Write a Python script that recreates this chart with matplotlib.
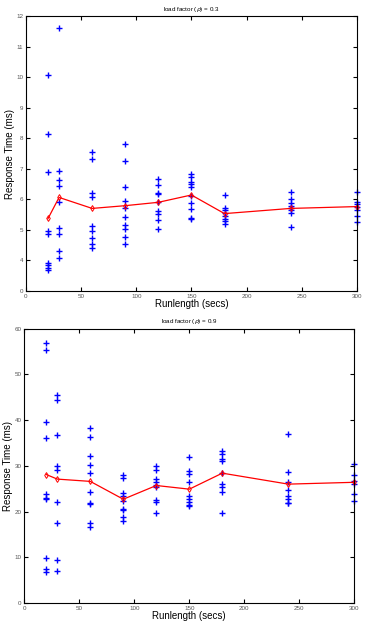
import numpy as np
import matplotlib
matplotlib.use("Agg")
import matplotlib.pyplot as plt

plt.rcParams['font.family'] = ['Liberation Sans', 'DejaVu Sans']

# runlengths (secs)
runlen = [20, 30, 60, 90, 120, 150, 180, 240, 300]

# load factor 0.3 - individual runs
top_runs = [
    [10.07, 8.13, 6.88, 4.97, 4.85, 3.91, 3.83, 3.75, 3.67],
    [11.61, 6.94, 6.62, 6.44, 5.90, 5.07, 4.87, 4.29, 4.06],
    [7.54, 7.32, 6.20, 6.06, 5.12, 4.97, 4.72, 4.53, 4.41],
    [7.80, 7.26, 6.39, 5.93, 5.72, 5.41, 5.15, 5.03, 4.75, 4.52],
    [6.65, 6.47, 6.20, 6.17, 5.91, 5.61, 5.51, 5.31, 5.01],
    [6.83, 6.72, 6.56, 6.49, 6.41, 6.12, 5.87, 5.69, 5.38, 5.34],
    [6.13, 5.70, 5.65, 5.54, 5.45, 5.35, 5.28, 5.18],
    [6.23, 6.00, 5.87, 5.78, 5.71, 5.65, 5.54, 5.10],
    [6.25, 5.91, 5.84, 5.76, 5.64, 5.46, 5.25],
]
top_mean = [5.37, 6.06, 5.70, 5.79, 5.90, 6.14, 5.53, 5.70, 5.76]

# load factor 0.9 - individual runs
bot_runs = [
    [56.8, 55.3, 39.5, 36.0, 23.8, 23.0, 22.7, 9.9, 7.4, 6.7],
    [45.6, 44.3, 36.8, 30.0, 29.1, 22.0, 17.6, 9.4, 7.0],
    [38.2, 36.4, 32.1, 30.1, 28.4, 24.2, 21.8, 21.6, 17.6, 16.7],
    [28.1, 27.3, 24.0, 23.5, 22.3, 20.5, 20.3, 18.8, 18.0],
    [30.0, 29.1, 27.1, 26.4, 25.9, 25.3, 22.5, 22.1, 19.6],
    [31.9, 28.9, 28.2, 26.5, 23.3, 22.7, 22.1, 21.4, 21.3],
    [33.2, 32.6, 31.5, 31.1, 28.4, 26.1, 25.4, 24.3, 19.6],
    [36.9, 28.6, 26.4, 24.7, 23.4, 22.7, 21.9, 21.8],
    [30.3, 28.1, 26.7, 26.0, 23.8, 22.3],
]
bot_mean = [28.1, 27.1, 26.6, 22.7, 25.7, 24.9, 28.4, 26.0, 26.4]

fig = plt.figure(figsize=(3.66, 6.24), dpi=100)
ax1 = fig.add_axes([0.071, 0.534, 0.904, 0.440])
ax2 = fig.add_axes([0.0664, 0.0337, 0.9016, 0.4395])


def draw(ax, runs, mean, title):
    for x, vals in zip(runlen, runs):
        ax.plot([x] * len(vals), vals, '+', color='blue', markersize=5, markeredgewidth=1.0,
                clip_on=False)
    ax.plot(runlen, mean, '-', color='red', linewidth=0.9, clip_on=False)
    ax.plot(runlen, mean, 'd', color='red', markerfacecolor='none', markersize=3,
            markeredgewidth=0.7, clip_on=False)
    ax.set_xlim(0, 300)
    ax.set_title(title, fontsize=4.5, pad=4)
    ax.set_xlabel('Runlength (secs)', fontsize=7, labelpad=0)
    ax.set_ylabel('Response Time (ms)', fontsize=7, labelpad=1)
    ax.tick_params(direction='in', top=True, right=True, length=3, width=0.8,
                   labelsize=4.5, labelcolor='#555555', pad=2)
    for s in ax.spines.values():
        s.set_linewidth(0.8)


draw(ax1, top_runs, top_mean, r'load factor ($\rho$) = 0.3')
ax1.set_ylim(3, 12)
ax1.set_yticks(np.arange(3, 13))
ax1.set_yticklabels(['0'] + [str(v) for v in range(4, 13)])

draw(ax2, bot_runs, bot_mean, r'load factor ($\rho$) = 0.9')
ax2.set_ylim(0, 60)

fig.savefig('out.png', dpi=100)
